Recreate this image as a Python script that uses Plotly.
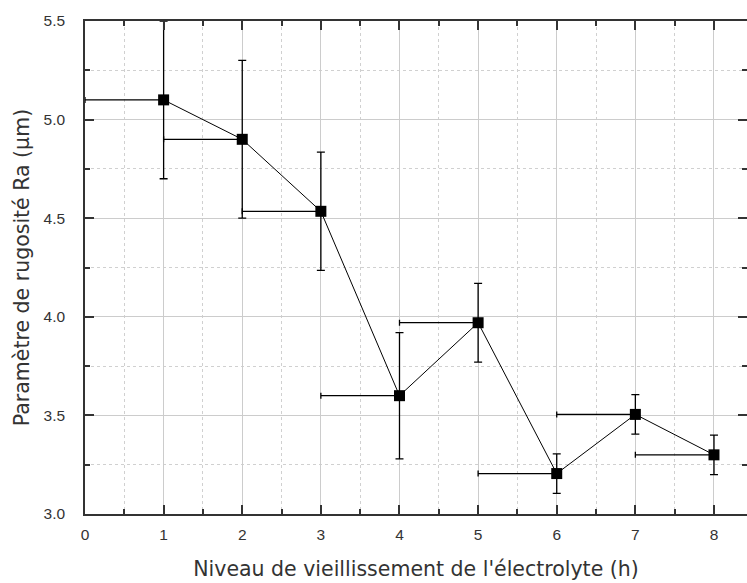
import plotly.graph_objects as go

x_hours = [1, 2, 3, 4, 5, 6, 7, 8]
ra_values = [5.10, 4.90, 4.535, 3.60, 3.97, 3.205, 3.505, 3.30]
ra_err = [0.40, 0.40, 0.30, 0.32, 0.20, 0.10, 0.10, 0.10]
x_err_left = [1, 1, 1, 1, 1, 1, 1, 1]
x_err_right = [0, 0, 0, 0, 0, 0, 0, 0]

x_tick_vals = [0, 1, 2, 3, 4, 5, 6, 7, 8]
y_tick_vals = [3.0, 3.5, 4.0, 4.5, 5.0, 5.5]
y_tick_text = ["3.0", "3.5", "4.0", "4.5", "5.0", "5.5"]

x_title = "Niveau de vieillissement de l'électrolyte (h)"
y_title = "Paramètre de rugosité Ra (µm)"

title_font = dict(family="DejaVu Sans, Liberation Sans, sans-serif", size=20.5, color="#333333")
tick_font = dict(family="Liberation Sans, Arial, sans-serif", size=15.5, color="#333333")

fig = go.Figure()
fig.add_trace(go.Scatter(
    x=x_hours, y=ra_values, mode="lines+markers",
    line=dict(color="black", width=1),
    marker=dict(symbol="square", size=11, color="black"),
    error_y=dict(type="data", array=ra_err, visible=True, color="black", thickness=1.3, width=4),
    error_x=dict(type="data", symmetric=False, array=x_err_right, arrayminus=x_err_left,
                 visible=True, color="black", thickness=1.3, width=3),
    showlegend=False,
))

fig.update_layout(
    width=747, height=583,
    margin=dict(l=85, r=0, t=21, b=69, autoexpand=False),
    paper_bgcolor="white", plot_bgcolor="white",
    font=dict(family="Liberation Sans, Arial, sans-serif", color="#333333"),
    xaxis=dict(
        automargin=False,
        range=[0, 8.42], tickvals=x_tick_vals, ticks="inside", ticklen=9, tickcolor="#333",
        tickwidth=1.5, showline=True, linecolor="#333", linewidth=1.5, mirror="ticks",
        showgrid=True, gridcolor="#cccccc", gridwidth=1, zeroline=False,
        tickfont=tick_font,
        minor=dict(dtick=0.5, ticks="inside", ticklen=5, tickcolor="#333", showgrid=True,
                   gridcolor="#d0d0d0", griddash="dot", gridwidth=1),
        title=dict(text=x_title, font=title_font, standoff=19),
        ticklabelstandoff=6,
    ),
    yaxis=dict(
        automargin=False,
        range=[3.0, 5.5], tickvals=y_tick_vals, ticktext=y_tick_text, ticks="inside", ticklen=9,
        tickcolor="#333", tickwidth=1.5, showline=True, linecolor="#333", linewidth=1.5, mirror="ticks",
        showgrid=True, gridcolor="#cccccc", gridwidth=1, zeroline=False,
        tickfont=tick_font,
        minor=dict(dtick=0.25, ticks="inside", ticklen=5, tickcolor="#333", showgrid=True,
                   gridcolor="#d0d0d0", griddash="dot", gridwidth=1),
        title=dict(text=y_title, font=title_font, standoff=8),
        ticklabelstandoff=15,
    ),
)

fig.write_html(
    "out.html",
    config={"displayModeBar": False},
    post_script="document.body.style.margin='0';document.body.style.overflow='hidden';",
)
